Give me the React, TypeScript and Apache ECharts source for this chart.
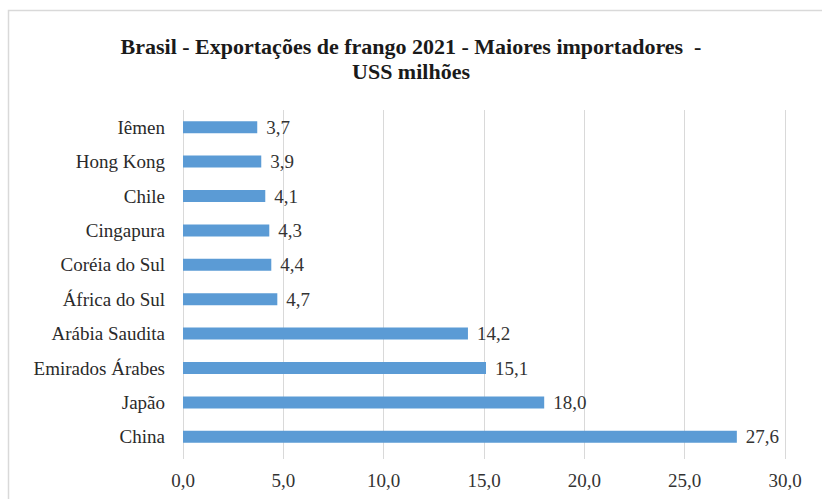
import React, { useEffect, useRef } from "react";
import * as echarts from "echarts";

const categories = [
  "China",
  "Japão",
  "Emirados Árabes",
  "Arábia Saudita",
  "África do Sul",
  "Coréia do Sul",
  "Cingapura",
  "Chile",
  "Hong Kong",
  "Iêmen",
];
const values = [27.6, 18.0, 15.1, 14.2, 4.7, 4.4, 4.3, 4.1, 3.9, 3.7];
const titleLines = [
  "Brasil - Exportações de frango 2021 - Maiores importadores  -",
  "USS milhões",
];

const fmt = (v: number) => v.toFixed(1).replace(".", ",");
const FONT = "Liberation Serif";

export default function App() {
  const ref = useRef<HTMLDivElement>(null);
  useEffect(() => {
    if (!ref.current) return;
    const chart = echarts.init(ref.current, null, { renderer: "svg" });
    chart.setOption({
      animation: false,
      backgroundColor: "#ffffff",
      textStyle: { fontFamily: FONT },
      graphic: [
        {
          type: "rect",
          shape: { x: 8.5, y: 10.5, width: 830, height: 500 },
          style: { fill: "none", stroke: "#d9d9d9", lineWidth: 1.5 },
          silent: true,
        },
      ],
      title: {
        text: titleLines.join("\n"),
        left: "center",
        top: 29,
        textStyle: {
          fontFamily: FONT,
          fontWeight: "bold",
          fontSize: 22,
          lineHeight: 25,
          color: "#1a1a1a",
        },
      },
      grid: { left: 183, right: 37, top: 110, bottom: 45 },
      xAxis: {
        type: "value",
        min: 0,
        max: 30,
        interval: 5,
        axisLine: { show: false },
        axisTick: { show: true, length: 5, lineStyle: { color: "#d9d9d9" } },
        splitLine: { show: true, lineStyle: { color: "#d9d9d9", width: 1 } },
        axisLabel: {
          formatter: (v: number) => fmt(v),
          fontFamily: FONT,
          fontSize: 19,
          color: "#333333",
          margin: 17,
        },
      },
      yAxis: {
        type: "category",
        data: categories,
        axisLine: { show: false },
        axisTick: { show: false },
        axisLabel: {
          fontFamily: FONT,
          fontSize: 19,
          color: "#2a2a2a",
          margin: 18,
        },
      },
      series: [
        {
          type: "bar",
          data: values,
          barWidth: 12,
          itemStyle: { color: "#5b9bd5" },
          label: {
            show: true,
            position: "right",
            distance: 9,
            formatter: (p: any) => fmt(p.value),
            fontFamily: FONT,
            fontSize: 19,
            color: "#333333",
          },
        },
      ],
    });
    return () => chart.dispose();
  }, []);
  return (
    <div
      ref={ref}
      style={{ position: "fixed", left: 0, top: 0, width: 822, height: 499 }}
    />
  );
}
